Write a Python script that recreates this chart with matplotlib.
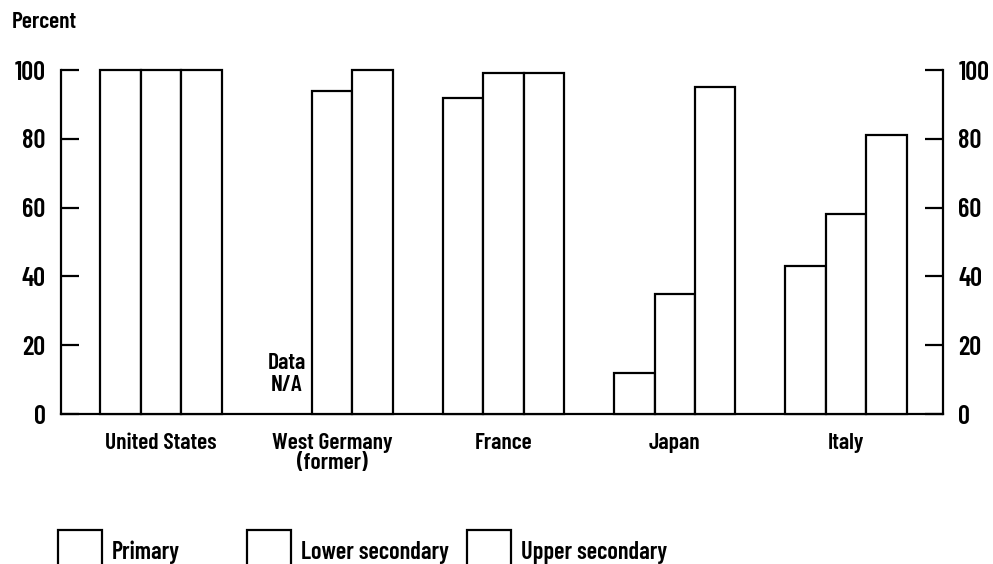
import numpy as np
import matplotlib.pyplot as plt
from matplotlib.patches import Rectangle

plt.rcParams["font.family"] = ["Barlow Condensed", "DejaVu Sans"]
plt.rcParams["font.weight"] = "semibold"

# ---------- data ----------
countries = ["United States", "West Germany\n(former)", "France", "Japan", "Italy"]
levels = ["Primary", "Lower secondary", "Upper secondary"]
primary = [100, np.nan, 92, 12, 43]
lower_secondary = [100, 94, 99, 35, 58]
upper_secondary = [100, 100, 99, 95, 81]
yticks = [0, 20, 40, 60, 80, 100]

series = [primary, lower_secondary, upper_secondary]

# ---------- figure ----------
fig = plt.figure(figsize=(9.93, 5.64), dpi=100)
ax = fig.add_axes([61 / 993, 1 - 414 / 564, (943 - 61) / 993, (414 - 70) / 564])

x = np.arange(len(countries))
w = 0.236
for i, vals in enumerate(series):
    ax.bar(x + (i - 1) * w, vals, width=w, color="white", edgecolor="black",
           linewidth=1.6, clip_on=False, zorder=3)

# data not available marker for West Germany primary
ax.text(x[1] - w - 0.03, 5.5, "Data\nN/A", ha="center", va="bottom",
        fontsize=17, linespacing=1.1)

ax.set_xlim(-0.583, 4.566)
ax.set_ylim(0, 100)
ax.set_yticks(yticks)
ax.set_xticks(x)
ax.set_xticklabels(countries, fontsize=17, linespacing=1.0)
ax.tick_params(axis="x", length=0, pad=14)
ax.tick_params(axis="y", direction="in", length=13, width=1.6, labelsize=19, pad=11)

ax.spines["top"].set_visible(False)
ax.spines["right"].set_visible(False)
for s in ["left", "bottom"]:
    ax.spines[s].set_linewidth(1.6)

ax2 = ax.twinx()
ax2.set_ylim(0, 100)
ax2.set_yticks(yticks)
ax2.tick_params(axis="y", direction="in", length=13, width=1.6, labelsize=19, pad=11)
for s in ["top", "left", "bottom"]:
    ax2.spines[s].set_visible(False)
ax2.spines["right"].set_linewidth(1.6)

fig.text(12 / 993, 1 - 12 / 564, "Percent", ha="left", va="top", fontsize=17)

# ---------- legend ----------
box_x = [58, 247, 467]
for bx, label in zip(box_x, levels):
    fig.patches.append(Rectangle((bx / 993, -10 / 564), 44 / 993, 44 / 564,
                                 transform=fig.transFigure, facecolor="white",
                                 edgecolor="black", linewidth=1.6))
    fig.text((bx + 54) / 993, 1 - 559 / 564, label, ha="left", va="baseline",
             fontsize=17.5)

fig.savefig("out.png", dpi=100)
